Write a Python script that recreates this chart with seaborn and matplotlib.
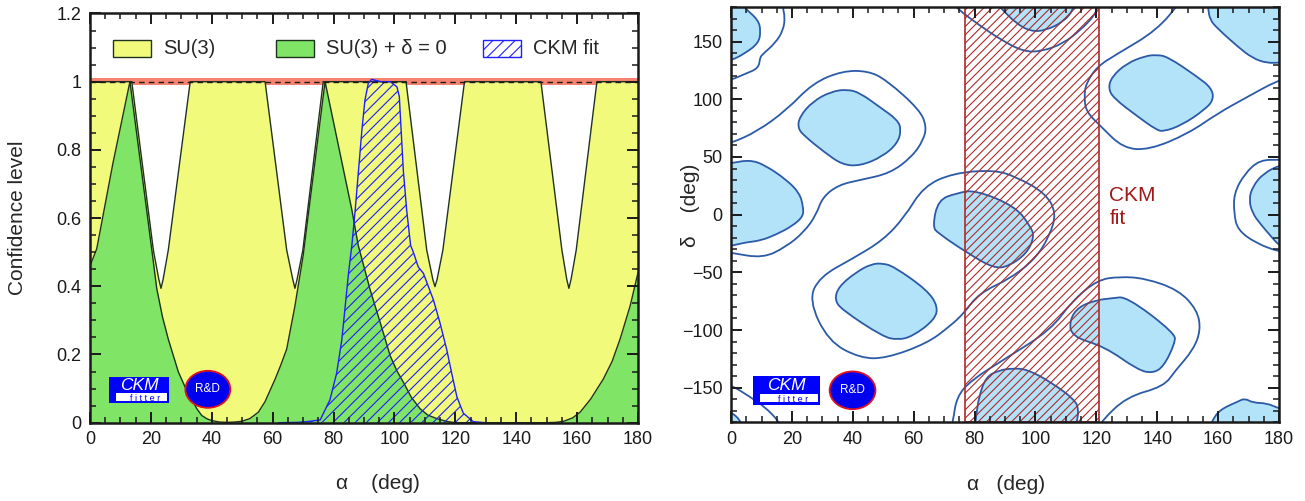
import matplotlib
matplotlib.use("Agg")
import matplotlib.pyplot as plt
import matplotlib.ticker as mticker
from matplotlib.patches import Rectangle, Ellipse, PathPatch
from matplotlib.path import Path
import seaborn as sns

# ---------------- left panel : CL vs alpha ----------------
su3_alpha = [0, 13.7, 20.8, 22.6, 23.3, 24.0, 25.7, 32.9,
             57.5, 64.6, 66.6, 67.3, 68.0, 69.9, 76.6,
             103.8, 110.6, 112.6, 113.3, 114.0, 115.9, 123.0,
             148.1, 155.0, 156.6, 157.3, 158.0, 159.7, 166.5, 180]
su3_cl = [1, 1, .506, .42, .394, .42, .506, 1,
          1, .506, .42, .394, .42, .506, 1,
          1, .506, .42, .399, .42, .506, 1,
          1, .506, .42, .394, .42, .506, 1, 1]

su3d0_alpha = [0, 2.2, 7.5, 13.1, 20.3, 21.9, 23.8, 25.7, 29.0, 31.2, 33.4, 35.0, 36.7, 38.5,
               40.0, 42.5, 45, 47.5, 49.8, 52.5, 55.3, 57.5, 59.0, 60.8, 62.7, 64.6, 67.3, 70.0,
               77.2, 86.0, 88.1, 92.0, 95.3, 98.6, 100.8, 102.9, 105.5, 108.4, 111.0, 113.9,
               117, 120, 150, 153, 155.5, 158.5, 161.0, 164.5, 168.6, 171.5, 174.1, 177.4, 180]
su3d0_cl = [0.46, 0.51, 0.76, 1.0, 0.506, 0.394, 0.31, 0.245, 0.149, 0.105, 0.07, 0.042, 0.021,
            0.011, 0.006, 0.002, 0.001, 0.002, 0.004, 0.012, 0.031, 0.062, 0.092, 0.128, 0.17,
            0.216, 0.342, 0.49,
            1.0, 0.624, 0.52, 0.39, 0.294, 0.196, 0.152, 0.119, 0.075, 0.041, 0.022, 0.012,
            0.004, 0.0, 0.0, 0.001, 0.004, 0.014, 0.031, 0.07, 0.128, 0.18, 0.245, 0.342, 0.44]

ckm_alpha = [62, 68, 71.2, 75.6, 78.8, 81.0, 82.7, 83.8, 84.9, 86.0, 87.1, 88.2, 89.3,
             90.3, 91.4, 92.5, 95.5, 98.6, 100.8, 101.6, 102.0, 102.9, 104.0, 105.3,
             106.2, 107.8, 109.5, 112.8, 115.0, 117.2, 118.8, 120.5, 122.6, 125.9, 130]
ckm_cl = [0.0, 0.001, 0.003, 0.008, 0.067, 0.145, 0.243, 0.34, 0.438, 0.52, 0.624, 0.741, 0.858,
          0.946, 0.995, 1.007, 1.0, 1.0, 0.985, 0.956, 0.888, 0.741, 0.624, 0.52,
          0.50, 0.457, 0.438, 0.36, 0.291, 0.213, 0.145, 0.076, 0.028, 0.003, 0.0]

legend_labels = ['SU(3)', 'SU(3) + δ = 0', 'CKM fit']

# ---------------- right panel : (alpha, delta) contours ----------------
# filled (inner) regions, traced vertices (alpha, delta)
isl_tl = [(-5, 186), (4.0, 186), (4.05, 180), (9.0, 168.8), (9.75, 158.7), (9.0, 148.6),
          (4.6, 139.9), (0, 133.5), (-5, 132)]
isl_tr = [(156.5, 186), (156.7, 179), (157.3, 169), (159.7, 161.6), (166.4, 145.7),
          (171.3, 135.6), (176.1, 131.3), (180.4, 131.9), (186, 132), (186, 186)]
isl_br = [(157, -186), (157.9, -179.4), (160.4, -169.3), (166.4, -162.1), (168.8, -159.2),
          (171.3, -163), (176.1, -163.5), (179.8, -167.9), (186, -172), (186, -186)]
isl_bl = [(-5, -168), (0, -171), (3, -178), (4, -186), (-5, -186)]
isl_b = [(21.9, 74.9), (22.5, 85.0), (26.8, 98.1), (32.8, 106.7), (38.3, 108.7), (42.5, 105.3),
         (48.6, 93.7), (54.7, 82.2), (55.9, 73.5), (54.7, 61.9), (49.8, 50.4), (42.5, 42.3),
         (36.5, 43.2), (30.4, 54.7), (24.3, 67.7)]
isl_c = [(-5, -30), (0, -27), (4.9, -24), (9.75, -22.5), (15, -17), (20, -10), (23.7, -1.7),
         (23.7, 7.0), (22.5, 18.6), (18.3, 30.1), (11, 43.2), (6.1, 47.5), (0, 44.6), (-5, 43)]
isl_j = [(185, 45), (180.4, 43.1), (174.9, 35.9), (171.3, 24.4), (170.1, 12.8), (171.3, 1.2),
         (173.7, -7.5), (177.4, -19), (180.4, -27.7), (185, -30)]
isl_d = [(80.2, 21.5), (93.5, 7.0), (98.4, -10.4), (99.6, -19.0), (97.2, -33.5), (91.1, -45.0),
         (86.3, -46.5), (77.8, -33.5), (68.0, -16.1), (66.2, -10.4), (68.0, 12.8), (74.1, 18.6)]
isl_e = [(49.8, -42.2), (53.5, -45.0), (64.4, -65.3), (68.0, -79.7), (66.8, -91.3), (59.5, -105.7),
         (54.7, -108.6), (49.8, -105.7), (36.5, -82.6), (34.0, -73.9), (35.3, -62.4), (41.3, -49.4),
         (46.2, -42.7)]
isl_f = [(86, 186), (88.7, 179), (93.5, 166), (98.4, 158.8), (103.3, 159.6), (109.3, 167.4),
         (112.4, 177.5), (113, 186)]
isl_g = [(139.7, 138.5), (143.3, 137.1), (153.1, 119.7), (157.9, 109.6), (158.5, 99.5),
         (155.5, 90.8), (148.2, 77.8), (142.1, 72.0), (139.7, 73.5), (133.6, 85.0), (125.7, 100.9),
         (123.9, 109.6), (125.1, 119.7), (130.0, 131.3), (136.1, 137.6)]
isl_h = [(125.1, -72.5), (130, -71), (145.8, -102.8), (145.8, -111.5), (142.1, -131.7),
         (138.5, -137.5), (133.6, -134.6), (122.7, -114.4), (111.8, -105.7), (111.2, -91.3),
         (114.2, -79.7), (120.3, -73.9)]
isl_i = [(80, -186), (80.5, -175), (81.4, -157.8), (83.8, -140.4), (88, -135), (92.3, -133.2),
         (97.2, -134), (105, -145), (113, -160.6), (114.2, -169.3), (113.6, -179.4), (113, -186)]

# outer contour lines (open), and one closed loop (out_de)
out_tl = [(18, 186), (16.9, 180), (17.7, 171.7), (17.2, 160.1), (14.5, 148.6), (10.1, 138.5),
          (9.5, 135.6), (9.0, 126.9), (4.6, 122.0), (0, 116.8), (-4, 115)]
out_bc = [(-4, 60), (0, 62), (8.5, 72), (18.3, 90.8), (26.8, 113.9), (36.5, 124.6), (45, 124.6),
          (51, 116.8), (62, 90.8), (64.2, 76.4), (63.2, 64.8), (59.5, 50.4), (52.3, 35.9),
          (42.5, 30.1), (35.3, 25.8), (30, 15), (28, 0), (24, -15), (18, -28), (10.4, -37.8),
          (0, -33), (-4, -32)]
out_f = [(72, 186), (74.1, 179), (81.4, 164.5), (88.7, 151.5), (96, 141.4), (102, 141.4),
         (109.3, 148.6), (114.8, 160.2), (119.1, 171.7), (120.3, 179), (121, 186)]
out_g = [(148, 186), (140, 160), (126.3, 138.5), (120.3, 128.4), (116.6, 113.9), (116, 102.4),
         (116.6, 89.4), (121.5, 76.4), (128.8, 57.6), (137.3, 56.1), (150, 70), (160, 88),
         (168.8, 100.9), (179.8, 116.8), (184, 118)]
out_de = [(63.2, 24.4), (72.9, 36.0), (86.3, 38.8), (93.5, 33), (103.3, 18.6), (106.9, 1.2),
          (104.5, -19), (100, -38), (92, -55), (81.4, -68.2), (76.5, -85.5), (71.7, -97.1),
          (64.4, -111.5), (51, -124.5), (42.5, -124.5), (32, -110), (25.5, -74), (29.2, -53.7),
          (40, -38), (50, -22), (57, -2)]
out_j = [(184, 48), (180.4, 47.5), (173.7, 47.5), (168.8, 35.9), (165.2, 18.6), (165.2, 1.2),
         (166.4, -13.3), (172.5, -24.8), (179.8, -32), (184, -33)]
out_hi = [(72, -186), (72.9, -179.4), (74.1, -157.8), (79, -143.3), (90, -125), (105, -100),
          (112, -75), (120.3, -56.6), (127.6, -53.7), (136.1, -55.2), (147, -65.3), (153.1, -82.6),
          (154.3, -100), (151.8, -117.3), (146, -135), (142.1, -149.1), (130, -157.8),
          (121.5, -179.4), (121, -186)]
out_bl = [(-4, -146), (0, -147.6), (6.1, -157.8), (11, -166.4), (15.8, -179.4), (16.5, -186)]

ckm_band = (76.7, 120.9)

YELLOW = '#f2fa7c'
GREEN = '#80e466'
DARK = '#1e331e'
SALMON = '#f6836f'
HBLUE = '#1f1fff'
LBLUE = '#b3e3f9'
CBLUE = '#2b5aa6'
RED = '#b02a2a'

sns.set_theme(style="white")
plt.rcParams['font.family'] = ['Liberation Sans', 'DejaVu Sans']
plt.rcParams['hatch.linewidth'] = 0.8
plt.rcParams['axes.linewidth'] = 1.8
plt.rcParams['axes.axisbelow'] = False

fig = plt.figure(figsize=(13.05, 5.01), dpi=100)
ax1 = fig.add_axes([0.0690, 0.1563, 0.4199, 0.8168])
ax2 = fig.add_axes([0.5602, 0.1571, 0.4199, 0.8289])


def style(ax):
    ax.set_axisbelow(False)
    ax.tick_params(which='both', direction='in', bottom=True, left=True, top=True, right=True,
                   labelsize=13, color='k', labelcolor='k', pad=6)
    ax.tick_params(which='major', length=8, width=1.4)
    ax.tick_params(which='minor', length=4, width=1.1)
    for s in ax.spines.values():
        s.set_color('k')
        s.set_zorder(10)
    ax.xaxis.set_zorder(9)
    ax.yaxis.set_zorder(9)
    ax.set_xlim(0, 180)
    ax.xaxis.set_major_locator(mticker.MultipleLocator(20))
    ax.xaxis.set_minor_locator(mticker.MultipleLocator(5))


def logo(ax, box, ell):
    x0, y0, w, h = box
    ax.add_patch(Rectangle((x0, y0), w, h, transform=ax.transAxes, facecolor='#0000ff',
                           edgecolor='none', zorder=8))
    ax.add_patch(Rectangle((x0 + 0.013, y0 + 0.006), w - 0.016, h * 0.28,
                           transform=ax.transAxes, facecolor='white', edgecolor='none', zorder=8))
    ax.text(x0 + w * 0.5, y0 + h * 0.68, 'CKM', transform=ax.transAxes, color='white',
            fontsize=12.5, style='italic', ha='center', va='center', zorder=9)
    ax.text(x0 + w * 0.6, y0 + h * 0.19, 'f i t t e r', transform=ax.transAxes, color='#0000ff',
            fontsize=6.5, ha='center', va='center', zorder=9)
    cx, cy, ew, eh = ell
    ax.add_patch(Ellipse((cx, cy), ew, eh, transform=ax.transAxes, facecolor='#0000ee',
                         edgecolor='#e01020', lw=1.3, zorder=8))
    ax.text(cx, cy, 'R&D', transform=ax.transAxes, color='white', fontsize=8.5,
            ha='center', va='center', zorder=9)


def line(ax, pts, color, lw, z):
    xs = [p[0] for p in pts]
    ys = [p[1] for p in pts]
    sns.lineplot(x=xs, y=ys, sort=False, estimator=None, color=color, lw=lw, ax=ax, zorder=z)


def smooth_path(pts, closed):
    # quadratic B-spline: traced vertices act as control points, curve runs through midpoints
    n = len(pts)
    mids = [((pts[i][0] + pts[(i + 1) % n][0]) / 2, (pts[i][1] + pts[(i + 1) % n][1]) / 2)
            for i in range(n)]
    if closed:
        verts, codes = [mids[-1]], [Path.MOVETO]
        for i in range(n):
            verts += [pts[i], mids[i]]
            codes += [Path.CURVE3, Path.CURVE3]
        verts.append(mids[-1])
        codes.append(Path.CLOSEPOLY)
    else:
        verts, codes = [pts[0], mids[0]], [Path.MOVETO, Path.LINETO]
        for i in range(1, n - 1):
            verts += [pts[i], mids[i]]
            codes += [Path.CURVE3, Path.CURVE3]
        verts.append(pts[-1])
        codes.append(Path.LINETO)
    return Path(verts, codes)


# ---- left
ax1.axhspan(0.99, 1.01, color=SALMON, lw=0, zorder=1)
ax1.fill_between(su3_alpha, 0, su3_cl, color=YELLOW, lw=0, zorder=2)
line(ax1, list(zip(su3_alpha, su3_cl)), DARK, 1.0, 2.1)
ax1.fill_between(su3d0_alpha, 0, su3d0_cl, color=GREEN, lw=0, zorder=3)
line(ax1, list(zip(su3d0_alpha, su3d0_cl)), DARK, 1.0, 3.1)
ax1.fill_between(ckm_alpha, 0, ckm_cl, facecolor='none', edgecolor=HBLUE, hatch='///',
                 lw=0, zorder=4)
line(ax1, list(zip(ckm_alpha, ckm_cl)), HBLUE, 1.0, 4.1)
ax1.axhline(1, color='k', ls=(0, (4, 3)), lw=1, zorder=5)

style(ax1)
ax1.set_ylim(0, 1.2)
ax1.yaxis.set_major_locator(mticker.MultipleLocator(0.2))
ax1.yaxis.set_minor_locator(mticker.MultipleLocator(0.05))
ax1.yaxis.set_major_formatter(mticker.FuncFormatter(lambda v, p: '%g' % round(v, 2)))
ax1.set_xlabel('α    (deg)', fontsize=15)
ax1.set_ylabel('Confidence level', fontsize=15)
ax1.xaxis.set_label_coords(0.526, -0.125)
ax1.yaxis.set_label_coords(-0.115, 0.5)

# legend drawn by hand, at the reference positions (axes fraction)
leg_box_x = [0.042, 0.3394, 0.718]
leg_txt_x = [0.1332, 0.4307, 0.8084]
leg_style = [dict(facecolor=YELLOW, edgecolor=DARK),
             dict(facecolor=GREEN, edgecolor=DARK),
             dict(facecolor='white', edgecolor=HBLUE, hatch='///')]
for bx, tx, lab, st in zip(leg_box_x, leg_txt_x, legend_labels, leg_style):
    ax1.add_patch(Rectangle((bx, 0.8937), 0.0693, 0.0415, transform=ax1.transAxes, lw=1,
                            zorder=6, **st))
    ax1.text(tx, 0.9145, lab, transform=ax1.transAxes, fontsize=14.5, ha='left',
             va='center', zorder=6)

logo(ax1, (0.0347, 0.048, 0.109, 0.064), (0.215, 0.0816, 0.082, 0.0904))

# ---- right
for isl in [isl_tl, isl_tr, isl_br, isl_bl, isl_b, isl_c, isl_j, isl_d, isl_e, isl_f,
            isl_g, isl_h, isl_i]:
    ax2.add_patch(PathPatch(smooth_path(isl, True), facecolor=LBLUE, edgecolor=CBLUE,
                            lw=1.3, zorder=1))
for o in [out_tl, out_bc, out_f, out_g, out_j, out_hi, out_bl]:
    ax2.add_patch(PathPatch(smooth_path(o, False), facecolor='none', edgecolor=CBLUE,
                            lw=1.3, zorder=2))
ax2.add_patch(PathPatch(smooth_path(out_de, True), facecolor='none', edgecolor=CBLUE,
                        lw=1.3, zorder=2))

ax2.axvspan(ckm_band[0], ckm_band[1], facecolor='none', edgecolor=RED, hatch='////', lw=1.2,
            zorder=3)
ax2.text(124.3, 17, 'CKM', color='#a01818', fontsize=15, ha='left', va='center')
ax2.text(124.3, -3, 'fit', color='#a01818', fontsize=15, ha='left', va='center')

style(ax2)
ax2.set_ylim(-180, 180)
ax2.yaxis.set_major_locator(mticker.MultipleLocator(50))
ax2.yaxis.set_minor_locator(mticker.MultipleLocator(10))
ax2.set_xlabel('α   (deg)', fontsize=15)
ax2.set_ylabel('δ    (deg)', fontsize=15)
ax2.xaxis.set_label_coords(0.502, -0.127)
ax2.yaxis.set_label_coords(-0.057, 0.523)
logo(ax2, (0.0392, 0.0417, 0.1225, 0.07), (0.2217, 0.077, 0.0836, 0.0908))

fig.savefig('out.png', dpi=100)
